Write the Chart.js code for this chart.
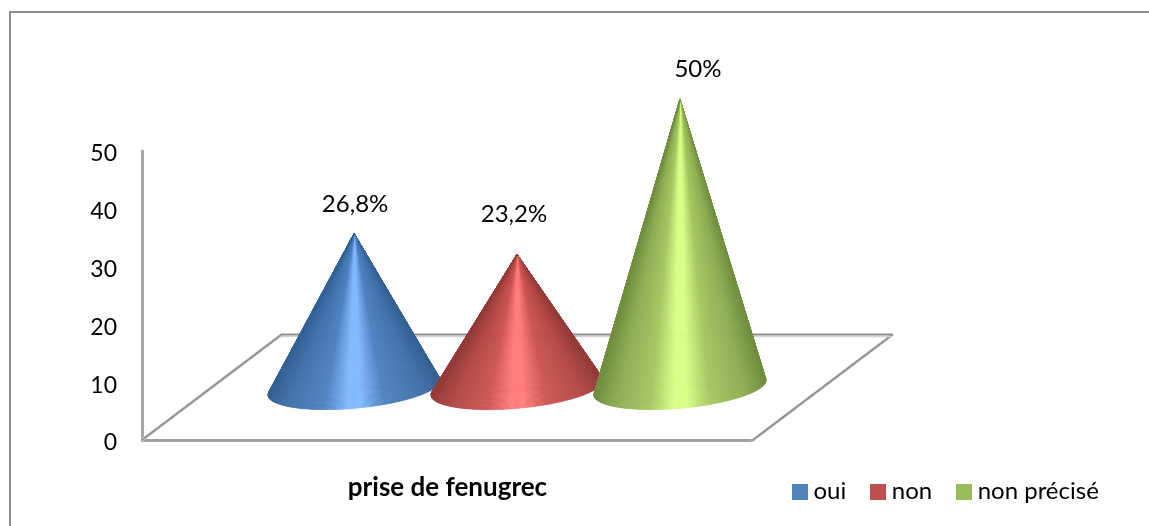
<!DOCTYPE html>
<html lang="fr">
<head>
<meta charset="utf-8">
<title>prise de fenugrec</title>
<style>html,body{margin:0;padding:0;background:#fff}canvas{display:block}</style>
<script src="https://cdn.jsdelivr.net/npm/chart.js@4/dist/chart.umd.min.js"></script>
</head>
<body>
<canvas id="c" width="1149" height="526"></canvas>
<script>
const categories = ['prise de fenugrec'];
const seriesNames = ['oui', 'non', 'non précisé'];
const ouiValues = [26.8];
const nonValues = [23.2];
const nonPreciseValues = [50];
const yTicks = [0, 10, 20, 30, 40, 50];

const FONT = 'Lato, Carlito, sans-serif';
const depth = {x: 139, y: 105};
const tilt = -5.2 * Math.PI / 180;
const minorAxis = 20.8;
const legendColors = ['#4f81bd', '#c0504d', '#9bbb59'];
const ramps = [
  {edge: [52, 98, 148], dark: [66, 114, 172], mid: [78, 130, 192], hi: [130, 184, 255]},
  {edge: [146, 60, 58], dark: [178, 72, 70], mid: [204, 86, 84], hi: [255, 124, 122]},
  {edge: [112, 142, 64], dark: [142, 172, 82], mid: [166, 198, 98], hi: [216, 255, 135]}
];
const labelOffsets = [{x: 1, y: -29}, {x: -3, y: -40}, {x: 18, y: -30}];

function swatch(color) {
  const s = document.createElement('canvas');
  s.width = 16; s.height = 16;
  const g = s.getContext('2d');
  g.fillStyle = color; g.fillRect(0, 0, 16, 16);
  return s;
}
function mix(a, b, t) { return a.map((v, i) => v + (b[i] - v) * t); }
function shade(r, f) {
  const stops = [[-1, r.edge], [-0.75, r.dark], [-0.35, r.mid], [-0.07, r.hi], [0.07, r.hi], [0.35, r.mid], [0.75, r.dark], [1, r.edge]];
  for (let i = 1; i < stops.length; i++) {
    if (f <= stops[i][0]) {
      const t = (f - stops[i - 1][0]) / (stops[i][0] - stops[i - 1][0]);
      const c = mix(stops[i - 1][1], stops[i][1], Math.max(0, t));
      return `rgb(${c.map(Math.round).join(',')})`;
    }
  }
  return `rgb(${r.edge.join(',')})`;
}
function drawCone(ctx, ax, ay, cx, cy, a, b, ramp) {
  const dx = ax - cx, dy = ay - cy;
  const c = Math.cos(-tilt), s = Math.sin(-tilt);
  const u = (dx * c - dy * s) / a, v = (dx * s + dy * c) / b;
  const d = Math.hypot(u, v), base = Math.atan2(v, u), w = Math.acos(1 / d);
  const t1 = base + w, t2 = base - w + 2 * Math.PI;
  const pt = t => {
    const lx = a * Math.cos(t), ly = b * Math.sin(t);
    return [cx + lx * Math.cos(tilt) - ly * Math.sin(tilt), cy + lx * Math.sin(tilt) + ly * Math.cos(tilt)];
  };
  const steps = 260;
  ctx.save();
  ctx.lineWidth = 0.6;
  for (let i = 0; i < steps; i++) {
    const p = pt(t1 + (t2 - t1) * i / steps), q = pt(t1 + (t2 - t1) * (i + 1) / steps);
    const col = shade(ramp, Math.max(-1, Math.min(1, ((p[0] + q[0]) / 2 - cx) / a)));
    ctx.fillStyle = col; ctx.strokeStyle = col;
    ctx.beginPath(); ctx.moveTo(ax, ay); ctx.lineTo(p[0], p[1]); ctx.lineTo(q[0], q[1]); ctx.closePath();
    ctx.fill(); ctx.stroke();
  }
  ctx.restore();
}

const conePlugin = {
  id: 'cones',
  beforeLayout(chart) {
    const l = chart.legend;
    if (l && !l.zeroHeight) {
      const fit = l.fit;
      l.fit = function () { fit.call(this); this.height = 0; };
      l.zeroHeight = true;
    }
  },
  afterLayout(chart) {
    const l = chart.legend;
    l.left = 768; l.right = 1149; l.top = 450; l.bottom = 526;
  },
  beforeDraw(chart) {
    const ctx = chart.ctx;
    ctx.save();
    ctx.strokeStyle = '#8c8c8c'; ctx.lineWidth = 2;
    ctx.beginPath(); ctx.moveTo(10, 526); ctx.lineTo(10, 12); ctx.lineTo(1149, 12); ctx.stroke();
    ctx.restore();
  },
  beforeDatasetsDraw(chart) {
    const ctx = chart.ctx, x0 = chart.scales.x.left, x1 = chart.scales.x.right, y0 = chart.scales.y.getPixelForValue(0);
    ctx.save();
    ctx.lineCap = 'round';
    [x0, x1].forEach(x => {
      ctx.strokeStyle = '#d9d9d9'; ctx.lineWidth = 3.4;
      ctx.beginPath(); ctx.moveTo(x, y0); ctx.lineTo(x + depth.x, y0 - depth.y); ctx.stroke();
      ctx.strokeStyle = '#8a8a8a'; ctx.lineWidth = 1.7; ctx.setLineDash([3, 1]);
      ctx.beginPath(); ctx.moveTo(x, y0); ctx.lineTo(x + depth.x, y0 - depth.y); ctx.stroke();
      ctx.setLineDash([]);
    });
    ctx.lineCap = 'butt';
    ctx.strokeStyle = '#d4d4d4'; ctx.lineWidth = 1.5;
    ctx.beginPath(); ctx.moveTo(x0 + depth.x, y0 - depth.y + 1.5); ctx.lineTo(x1 + depth.x, y0 - depth.y + 1.5); ctx.stroke();
    ctx.strokeStyle = '#909090'; ctx.lineWidth = 2;
    ctx.beginPath(); ctx.moveTo(x0 + depth.x, y0 - depth.y - 0.5); ctx.lineTo(x1 + depth.x, y0 - depth.y - 0.5); ctx.stroke();
    ctx.restore();
  },
  beforeDatasetDraw() { return false; },
  afterDatasetsDraw(chart) {
    const ctx = chart.ctx;
    chart.data.datasets.forEach((ds, i) => {
      const el = chart.getDatasetMeta(i).data[0];
      const p = el.getProps(['x', 'y', 'base', 'width'], true);
      const ax = p.x + depth.x / 2, ay = p.y - depth.y / 2 + 1;
      const cy = p.base - depth.y / 2;
      drawCone(ctx, ax, ay, ax, cy, p.width / 2, minorAxis, ramps[i]);
      ctx.save();
      ctx.fillStyle = '#000';
      ctx.font = `24px ${FONT}`;
      ctx.textAlign = 'center'; ctx.textBaseline = 'middle';
      ctx.fillText(String(ds.data[0]).replace('.', ',') + '%', ax + labelOffsets[i].x, ay + labelOffsets[i].y);
      ctx.restore();
    });
  }
};

const seriesValues = [ouiValues, nonValues, nonPreciseValues];
new Chart(document.getElementById('c'), {
  type: 'bar',
  data: {
    labels: categories,
    datasets: seriesNames.map((n, i) => ({
      label: n,
      data: seriesValues[i],
      backgroundColor: legendColors[i],
      categoryPercentage: 0.8,
      barPercentage: 1.06
    }))
  },
  options: {
    responsive: false,
    animation: false,
    layout: {padding: {top: 151, right: 396, bottom: 0, left: 0}},
    plugins: {
      tooltip: {enabled: false},
      legend: {
        display: true,
        position: 'bottom',
        align: 'start',
        labels: {
          usePointStyle: true,
          pointStyleWidth: 4,
          boxHeight: 16,
          padding: 29.5,
          color: '#000',
          font: {family: FONT, size: 24},
          generateLabels(chart) {
            return Chart.defaults.plugins.legend.labels.generateLabels(chart).map((it, i) => {
              it.pointStyle = swatch(legendColors[i]);
              it.lineWidth = 0;
              return it;
            });
          }
        }
      }
    },
    scales: {
      x: {
        grid: {display: false},
        border: {display: true, color: '#a0a0a0', width: 3},
        ticks: {display: false},
        title: {
          display: true,
          text: categories[0],
          color: '#000',
          font: {family: FONT, size: 26, weight: 'bold'},
          padding: {top: 0, bottom: 23}
        },
        afterFit(s) { s.height = 86; }
      },
      y: {
        min: 0,
        max: 50,
        grid: {display: false, drawTicks: false},
        border: {display: true, color: '#a8a8a8', width: 3},
        afterBuildTicks(s) { s.ticks = yTicks.map(v => ({value: v})); },
        ticks: {color: '#000', padding: 25, labelOffset: 3, font: {family: FONT, size: 23}},
        afterFit(s) { s.width = 142; }
      }
    }
  },
  plugins: [conePlugin]
});
</script>
</body>
</html>
